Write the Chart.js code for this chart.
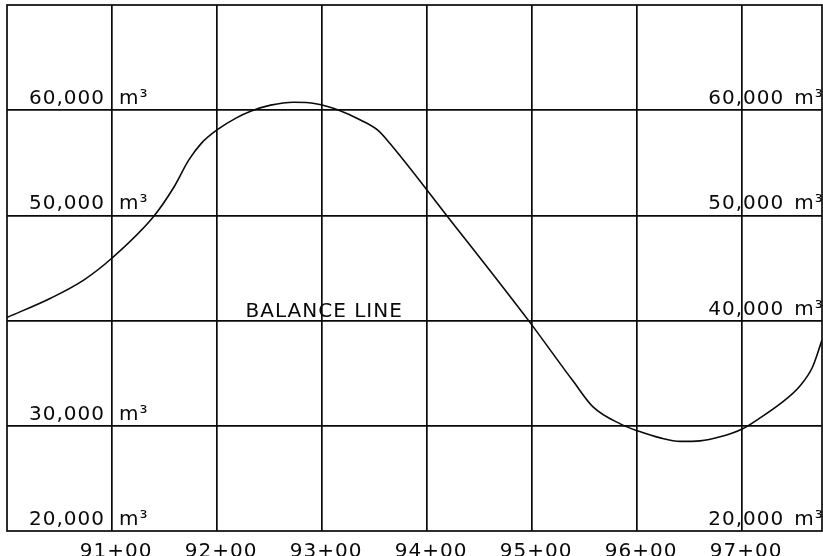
<!DOCTYPE html>
<html>
<head>
<meta charset="utf-8">
<script src="https://cdn.jsdelivr.net/npm/chart.js@4"></script>
<style>
  html, body { margin: 0; padding: 0; background: #fff; }
  #wrap { width: 823px; height: 556px; }
</style>
</head>
<body>
<div id="wrap"><canvas id="c" width="823" height="556"></canvas></div>
<script>
// Mass haul diagram data (stations, cumulative volume in m3)
const stations = [90.0, 90.42, 90.73, 91.0, 91.4, 91.59, 91.73, 91.85, 92.01, 92.18, 92.32, 92.51, 92.73, 92.94, 93.16, 93.37, 93.53, 93.62, 94.19, 94.97, 95.39, 95.58, 95.84, 96.01, 96.22, 96.41, 96.6, 96.79, 97.0, 97.17, 97.36, 97.55, 97.67, 97.76];
const volumes = [40300, 42150, 43850, 45950, 49950, 52700, 55250, 56850, 58200, 59250, 59900, 60480, 60760, 60620, 60000, 59050, 58100, 57150, 49950, 39950, 34250, 31800, 30180, 29500, 28850, 28520, 28570, 28950, 29700, 30750, 32080, 33790, 35590, 38150];

const stationTicks = [91, 92, 93, 94, 95, 96, 97];
const stationLabels = ["91+00", "92+00", "93+00", "94+00", "95+00", "96+00", "97+00"];
const leftVolumeLabels = [60000, 50000, 30000, 20000];
const rightVolumeLabels = [60000, 50000, 40000, 20000];
const balanceLabel = "BALANCE LINE";
const balanceValue = 40000;
const balanceStation = 93.02;

const xMin = 90.0, xMax = 97.76;
const yMin = 20000, yMax = 70000;

const INK = '#0a0a0a';
const FONT = '20px "DejaVu Sans"';

const fmt = v => v.toLocaleString('en-US');

const labelPlugin = {
  id: 'labels',
  afterDraw(chart) {
    const ctx = chart.ctx;
    const xs = chart.scales.x, ys = chart.scales.y;
    const a = chart.chartArea;
    ctx.save();
    ctx.strokeStyle = INK;
    ctx.lineWidth = 1.7;
    ctx.strokeRect(a.left, a.top, a.right - a.left, a.bottom - a.top);
    ctx.fillStyle = INK;
    ctx.font = FONT;
    ctx.letterSpacing = '1px';
    ctx.textBaseline = 'alphabetic';
    const xLeftLine = xs.getPixelForValue(stationTicks[0]);
    const xRightLine = xs.getPixelForValue(stationTicks[stationTicks.length - 1]);
    leftVolumeLabels.forEach(v => {
      const y = ys.getPixelForValue(v) - 6;
      ctx.textAlign = 'right';
      ctx.fillText(fmt(v), xLeftLine - 7, y);
      ctx.textAlign = 'left';
      ctx.fillText('m³', xLeftLine + 7, y);
    });
    rightVolumeLabels.forEach(v => {
      const y = ys.getPixelForValue(v) - 6;
      ctx.textAlign = 'right';
      ctx.fillText(fmt(v), xRightLine + 42, y);
      ctx.textAlign = 'left';
      ctx.fillText('m³', xRightLine + 52, y);
    });
    ctx.textAlign = 'center';
    ctx.fillText(balanceLabel, xs.getPixelForValue(balanceStation), ys.getPixelForValue(balanceValue) - 4);
    stationTicks.forEach((s, i) => {
      ctx.fillText(stationLabels[i], xs.getPixelForValue(s) + 4, 557);
    });
    ctx.restore();
  }
};

new Chart(document.getElementById('c'), {
  type: 'scatter',
  data: {
    datasets: [{
      data: stations.map((s, i) => ({ x: s, y: volumes[i] })),
      showLine: true,
      borderColor: INK,
      borderWidth: 1.6,
      pointRadius: 0,
      cubicInterpolationMode: 'monotone',
      fill: false
    }]
  },
  options: {
    responsive: false,
    animation: false,
    layout: { padding: { left: 7, right: 1, top: 5, bottom: 25 } },
    plugins: { legend: { display: false }, tooltip: { enabled: false } },
    scales: {
      x: {
        type: 'linear',
        min: xMin, max: xMax,
        afterBuildTicks: s => { s.ticks = stationTicks.map(v => ({ value: v })); },
        afterFit: s => { s.height = 0; },
        ticks: { display: false },
        grid: { color: INK, lineWidth: 1.7, drawTicks: false },
        border: { display: false }
      },
      y: {
        min: yMin, max: yMax,
        afterBuildTicks: s => { s.ticks = [30000, 40000, 50000, 60000].map(v => ({ value: v })); },
        afterFit: s => { s.width = 0; },
        ticks: { display: false },
        grid: { color: INK, lineWidth: 1.7, drawTicks: false },
        border: { display: false }
      }
    }
  },
  plugins: [labelPlugin]
});
</script>
</body>
</html>
